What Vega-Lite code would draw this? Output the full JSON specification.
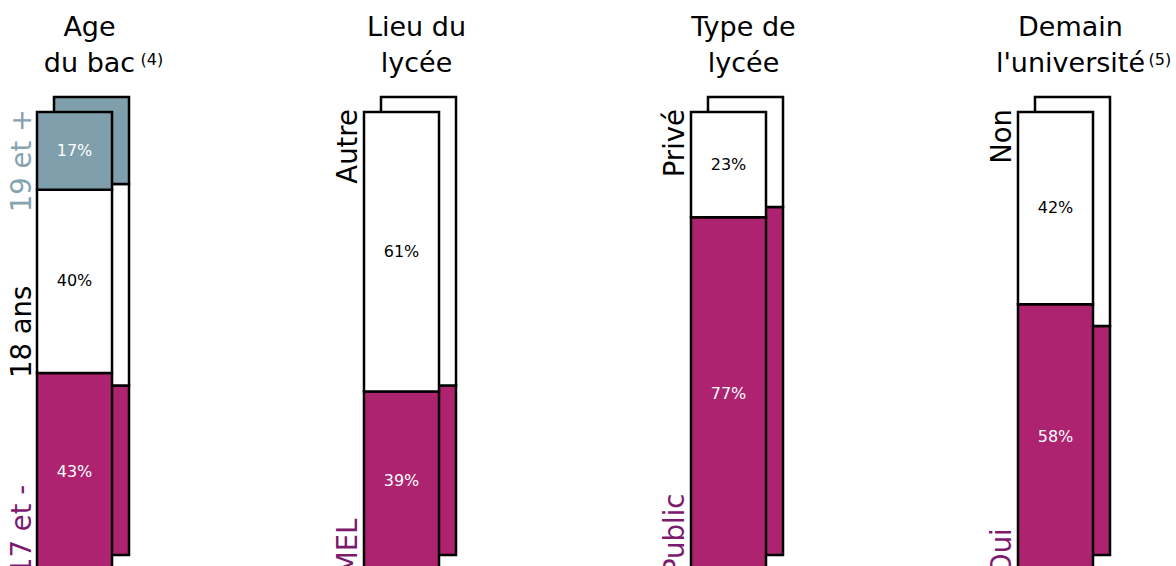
{
  "$schema": "https://vega.github.io/schema/vega-lite/v6.json",
  "width": 1056,
  "height": 458,
  "autosize": {"type": "none"},
  "padding": {"left": 37, "top": 112, "right": 83, "bottom": 0},
  "background": "white",
  "config": {"view": {"stroke": null}, "font": "DejaVu Sans", "text": {"font": "DejaVu Sans"}},
  "datasets": {
    "parts": [
      {"volet": "age", "modalite": "17 et -", "ordre": 1, "serie": "etudiants", "pct": 0.43},
      {"volet": "age", "modalite": "18 ans", "ordre": 2, "serie": "etudiants", "pct": 0.40},
      {"volet": "age", "modalite": "19 et +", "ordre": 3, "serie": "etudiants", "pct": 0.17},
      {"volet": "lieu", "modalite": "MEL", "ordre": 1, "serie": "etudiants", "pct": 0.39},
      {"volet": "lieu", "modalite": "Autre", "ordre": 2, "serie": "etudiants", "pct": 0.61},
      {"volet": "type", "modalite": "Public", "ordre": 1, "serie": "etudiants", "pct": 0.77},
      {"volet": "type", "modalite": "Privé", "ordre": 2, "serie": "etudiants", "pct": 0.23},
      {"volet": "univ", "modalite": "Oui", "ordre": 1, "serie": "etudiants", "pct": 0.58},
      {"volet": "univ", "modalite": "Non", "ordre": 2, "serie": "etudiants", "pct": 0.42},
      {"volet": "age", "modalite": "17 et -", "ordre": 1, "serie": "ensemble", "pct": 0.37},
      {"volet": "age", "modalite": "18 ans", "ordre": 2, "serie": "ensemble", "pct": 0.44},
      {"volet": "age", "modalite": "19 et +", "ordre": 3, "serie": "ensemble", "pct": 0.19},
      {"volet": "lieu", "modalite": "MEL", "ordre": 1, "serie": "ensemble", "pct": 0.37},
      {"volet": "lieu", "modalite": "Autre", "ordre": 2, "serie": "ensemble", "pct": 0.63},
      {"volet": "type", "modalite": "Public", "ordre": 1, "serie": "ensemble", "pct": 0.76},
      {"volet": "type", "modalite": "Privé", "ordre": 2, "serie": "ensemble", "pct": 0.24},
      {"volet": "univ", "modalite": "Oui", "ordre": 1, "serie": "ensemble", "pct": 0.50},
      {"volet": "univ", "modalite": "Non", "ordre": 2, "serie": "ensemble", "pct": 0.50}
    ],
    "titres": [
      {"volet": "age", "titre": "Age\ndu bac", "note": "(4)"},
      {"volet": "lieu", "titre": "Lieu du\nlycée", "note": ""},
      {"volet": "type", "titre": "Type de\nlycée", "note": ""},
      {"volet": "univ", "titre": "Demain\nl'université", "note": "(5)"}
    ]
  },
  "layer": [
    {
      "data": {"name": "parts"},
      "transform": [
        {"filter": "datum.serie == 'ensemble'"},
        {"stack": "pct", "groupby": ["volet", "serie"], "sort": [{"field": "ordre", "order": "ascending"}], "as": ["bas", "haut"]}
      ],
      "mark": {"type": "bar", "xOffset": 17, "yOffset": -15, "y2Offset": -15, "stroke": "black", "strokeWidth": 2.5, "strokeJoin": "miter"},
      "encoding": {
        "x": {"field": "volet", "type": "nominal", "axis": null, "scale": {"domain": ["age", "lieu", "type", "univ"], "paddingInner": 0.7706, "paddingOuter": 0}},
        "y": {"field": "haut", "type": "quantitative", "axis": null, "scale": {"domain": [0, 1], "nice": false}},
        "y2": {"field": "bas"},
        "color": {"field": "modalite", "type": "nominal", "legend": null, "scale": {"domain": ["17 et -", "18 ans", "19 et +", "MEL", "Autre", "Public", "Privé", "Oui", "Non"], "range": ["#ad2370", "#ffffff", "#7f9fac", "#ad2370", "#ffffff", "#ad2370", "#ffffff", "#ad2370", "#ffffff"]}}
      }
    },
    {
      "data": {"name": "parts"},
      "transform": [
        {"filter": "datum.serie == 'etudiants'"},
        {"stack": "pct", "groupby": ["volet", "serie"], "sort": [{"field": "ordre", "order": "ascending"}], "as": ["bas", "haut"]}
      ],
      "mark": {"type": "bar", "stroke": "black", "strokeWidth": 2.5, "strokeJoin": "miter"},
      "encoding": {
        "x": {"field": "volet", "type": "nominal"},
        "y": {"field": "haut", "type": "quantitative"},
        "y2": {"field": "bas"},
        "color": {"field": "modalite", "type": "nominal"}
      }
    },
    {
      "data": {"name": "parts"},
      "transform": [
        {"filter": "datum.serie == 'etudiants'"},
        {"stack": "pct", "groupby": ["volet", "serie"], "sort": [{"field": "ordre", "order": "ascending"}], "as": ["bas", "haut"]},
        {"calculate": "(datum.bas + datum.haut) / 2", "as": "milieu"}
      ],
      "mark": {"type": "text", "fontSize": 16, "baseline": "middle", "align": "center"},
      "encoding": {
        "x": {"field": "volet", "type": "nominal"},
        "y": {"field": "milieu", "type": "quantitative"},
        "text": {"field": "pct", "type": "quantitative", "format": ".0%"},
        "color": {"condition": {"test": "indexof(['18 ans','Autre','Privé','Non'], datum.modalite) >= 0", "value": "black"}, "value": "white"}
      }
    },
    {
      "data": {"name": "parts"},
      "transform": [
        {"filter": "datum.serie == 'etudiants'"},
        {"stack": "pct", "groupby": ["volet", "serie"], "sort": [{"field": "ordre", "order": "ascending"}], "as": ["bas", "haut"]},
        {"filter": "datum.haut < 0.995"}
      ],
      "mark": {"type": "text", "fontSize": 27.5, "angle": 270, "align": "left", "baseline": "alphabetic", "xOffset": -6.5, "yOffset": 5},
      "encoding": {
        "x": {"field": "volet", "type": "nominal", "bandPosition": 0},
        "y": {"field": "bas", "type": "quantitative"},
        "text": {"field": "modalite"},
        "color": {"condition": {"test": "datum.ordre == 1", "value": "#7b1a6e"}, "value": "black"}
      }
    },
    {
      "data": {"name": "parts"},
      "transform": [
        {"filter": "datum.serie == 'etudiants'"},
        {"stack": "pct", "groupby": ["volet", "serie"], "sort": [{"field": "ordre", "order": "ascending"}], "as": ["bas", "haut"]},
        {"filter": "datum.haut >= 0.995"}
      ],
      "mark": {"type": "text", "fontSize": 27.5, "angle": 270, "align": "right", "baseline": "alphabetic", "xOffset": -6.5, "yOffset": -3},
      "encoding": {
        "x": {"field": "volet", "type": "nominal", "bandPosition": 0},
        "y": {"field": "haut", "type": "quantitative"},
        "text": {"field": "modalite"},
        "color": {"condition": {"test": "datum.modalite == '19 et +'", "value": "#86a3b0"}, "value": "black"}
      }
    },
    {
      "data": {"name": "titres"},
      "mark": {"type": "text", "fontSize": 27, "align": "center", "baseline": "alphabetic", "lineBreak": "\n", "lineHeight": 36, "xOffset": 15, "yOffset": -76, "color": "black"},
      "encoding": {
        "x": {"field": "volet", "type": "nominal"},
        "y": {"datum": 1, "type": "quantitative"},
        "text": {"field": "titre"}
      }
    },
    {
      "data": {"name": "titres"},
      "transform": [{"filter": "datum.volet == 'age'"}],
      "mark": {"type": "text", "fontSize": 16, "align": "left", "baseline": "alphabetic", "xOffset": 66, "yOffset": -47, "color": "black"},
      "encoding": {
        "x": {"field": "volet", "type": "nominal"},
        "y": {"datum": 1, "type": "quantitative"},
        "text": {"field": "note"}
      }
    },
    {
      "data": {"name": "titres"},
      "transform": [{"filter": "datum.volet == 'univ'"}],
      "mark": {"type": "text", "fontSize": 16, "align": "left", "baseline": "alphabetic", "xOffset": 93, "yOffset": -47, "color": "black"},
      "encoding": {
        "x": {"field": "volet", "type": "nominal"},
        "y": {"datum": 1, "type": "quantitative"},
        "text": {"field": "note"}
      }
    }
  ]
}
